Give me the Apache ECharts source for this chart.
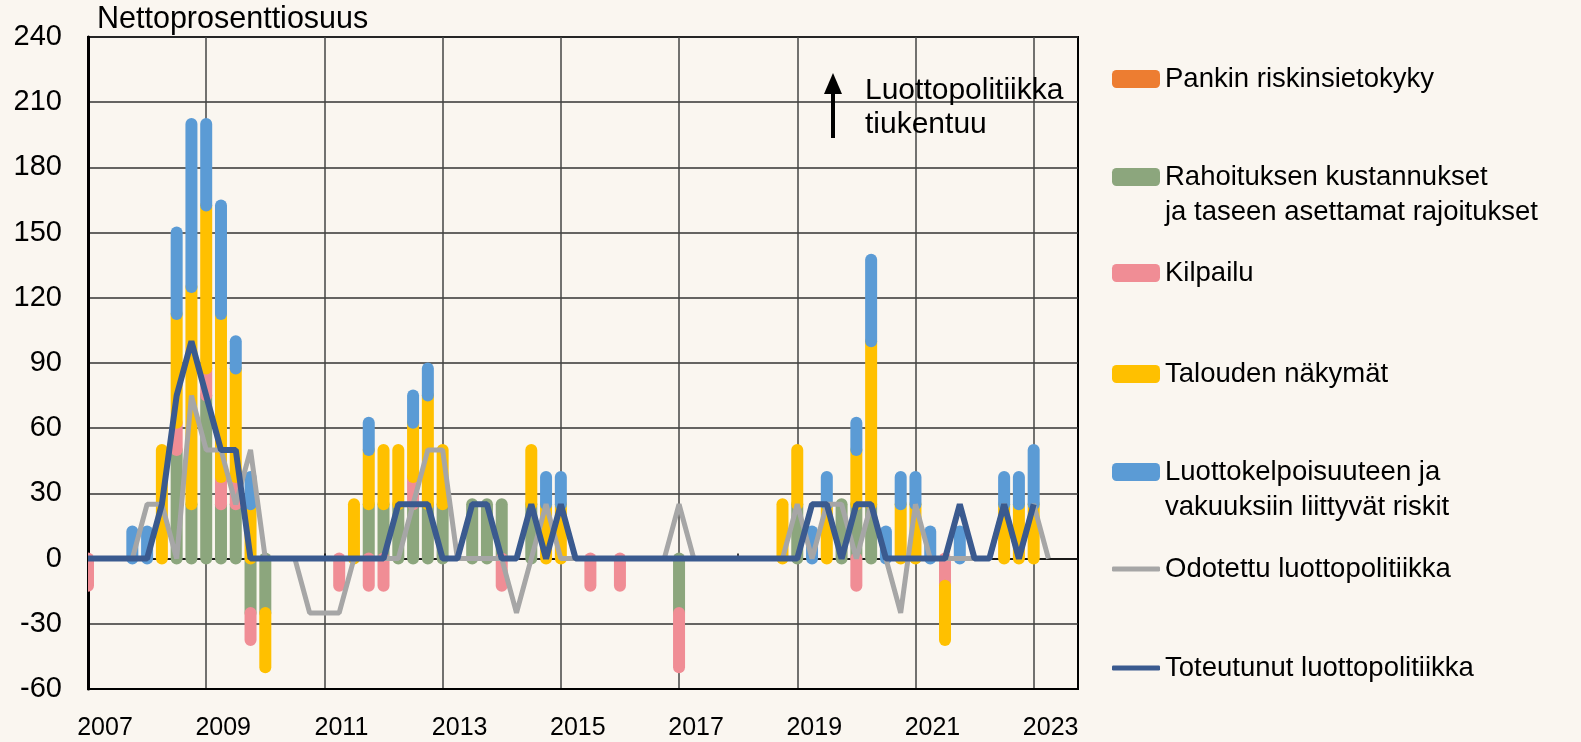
<!DOCTYPE html>
<html>
<head>
<meta charset="utf-8">
<script src="https://cdn.jsdelivr.net/npm/echarts@6/dist/echarts.min.js"></script>
<style>
  html, body { margin: 0; padding: 0; background: #FAF6F0; }
  #chart { width: 1581px; height: 742px; }
</style>
</head>
<body>
<div id="chart"></div>
<script>
// vuosineljännekset 2007Q1 - 2023Q4
const years = [2007, 2008, 2009, 2010, 2011, 2012, 2013, 2014, 2015, 2016, 2017, 2018, 2019, 2020, 2021, 2022, 2023]
const categories = []
years.forEach(y => { for (let q = 1; q <= 4; q++) categories.push(y + 'Q' + q) })

// tekijät, nettoprosenttiosuus (rivi = 2 vuotta)
const pankinRiski = [
  0, 0, 0, 0, 0, 0, 0, 0,
  0, 0, 0, 0, 0, 0, 0, 0,
  0, 0, 0, 0, 0, 0, 0, 0,
  0, 0, 0, 0, 0, 0, 0, 0,
  0, 0, 0, 0, 0, 0, 0, 0,
  0, 0, 0, 0, 0, 0, 0, 0,
  0, 0, 0, 0, 0, 0, 0, 0,
  0, 0, 0, 0, 0, 0, 0, 0,
  0
]
const rahoitus = [
  0, 0, 0, 0, 0, 0, 50, 25,
  75, 25, 25, -25, -25, 0, 0, 0,
  0, 0, 0, 25, 25, 25, 25, 25,
  25, 0, 25, 25, 25, 0, 25, 0,
  0, 0, 0, 0, 0, 0, 0, 0,
  -25, 0, 0, 0, 0, 0, 0, 0,
  25, 0, 0, 25, 25, 25, 0, 0,
  0, 0, 0, 0, 0, 0, 0, 0,
  0
]
const kilpailu = [
  -12.5, 0, 0, 0, 0, 0, 12.5, 0,
  12.5, 12.5, 12.5, -12.5, 0, 0, 0, 0,
  0, -12.5, 0, -12.5, -12.5, 0, 12.5, 0,
  0, 0, 0, 0, -12.5, 0, 0, 0,
  0, 0, -12.5, 0, -12.5, 0, 0, 0,
  -25, 0, 0, 0, 0, 0, 0, 0,
  0, 0, 0, 0, -12.5, 0, 0, 0,
  0, 0, -12.5, 0, 0, 0, 0, 0,
  0
]
const talous = [
  0, 0, 0, 0, 0, 50, 50, 100,
  75, 75, 50, 25, -25, 0, 0, 0,
  0, 0, 25, 25, 25, 25, 25, 50,
  25, 0, 0, 0, 0, 0, 25, 25,
  25, 0, 0, 0, 0, 0, 0, 0,
  0, 0, 0, 0, 0, 0, 0, 25,
  25, 0, 25, 0, 25, 75, 0, 25,
  25, 0, -25, 0, 0, 0, 25, 25,
  25
]
const luottokelpoisuus = [
  0, 0, 0, 12.5, 12.5, 0, 37.5, 75,
  37.5, 50, 12.5, 12.5, 0, 0, 0, 0,
  0, 0, 0, 12.5, 0, 0, 12.5, 12.5,
  0, 0, 0, 0, 0, 0, 0, 12.5,
  12.5, 0, 0, 0, 0, 0, 0, 0,
  0, 0, 0, 0, 0, 0, 0, 0,
  0, 12.5, 12.5, 0, 12.5, 37.5, 12.5, 12.5,
  12.5, 12.5, 0, 12.5, 0, 0, 12.5, 12.5,
  25
]
const odotettu = [
  0, 0, 0, 0, 25, 25, 0, 75,
  50, 50, 25, 50, 0, 0, 0, -25,
  -25, -25, 0, 0, 0, 0, 25, 50,
  50, 0, 0, 0, 0, -25, 0, 25,
  0, 0, 0, 0, 0, 0, 0, 0,
  25, 0, 0, 0, 0, 0, 0, 0,
  25, 0, 25, 25, 0, 25, 0, -25,
  25, 0, 0, 0, 0, 0, 25, 0,
  25, 0
]
const toteutunut = [
  0, 0, 0, 0, 0, 25, 75, 100,
  75, 50, 50, 0, 0, 0, 0, 0,
  0, 0, 0, 0, 0, 25, 25, 25,
  0, 0, 25, 25, 0, 0, 25, 0,
  25, 0, 0, 0, 0, 0, 0, 0,
  0, 0, 0, 0, 0, 0, 0, 0,
  0, 25, 25, 0, 25, 25, 0, 0,
  0, 0, 0, 25, 0, 0, 25, 0,
  25
]

const barDefs = [
  { name: 'Pankin riskinsietokyky', values: pankinRiski, color: '#ED7D31' },
  { name: 'Rahoituksen kustannukset\nja taseen asettamat rajoitukset', values: rahoitus, color: '#8CA67D' },
  { name: 'Kilpailu', values: kilpailu, color: '#F08D95' },
  { name: 'Talouden näkymät', values: talous, color: '#FFC000' },
  { name: 'Luottokelpoisuuteen ja\nvakuuksiin liittyvät riskit', values: luottokelpoisuus, color: '#5B9BD5' }
]
const lineDefs = [
  { name: 'Odotettu luottopolitiikka', values: odotettu, color: '#A6A6A6', width: 5 },
  { name: 'Toteutunut luottopolitiikka', values: toteutunut, color: '#3A5A8F', width: 6 }
]

const chart = echarts.init(document.getElementById('chart'))
const font = 'Liberation Sans, Arial, sans-serif'
const halfBar = 6

// pinotaan positiiviset ylös ja negatiiviset alas erikseen
const posBase = categories.map(() => 0)
const negBase = categories.map(() => 0)
const barSeries = barDefs.map(def => {
  const data = def.values.map((v, k) => {
    let base
    if (v >= 0) { base = posBase[k]; posBase[k] += v } else { base = negBase[k]; negBase[k] += v }
    return [k, v, base]
  })
  return {
    name: def.name,
    type: 'custom',
    clip: true,
    z: 2,
    itemStyle: { color: def.color },
    encode: { x: 0, y: 1 },
    data: data,
    renderItem(params, api) {
      const v = api.value(1)
      if (!v) return
      const k = api.value(0)
      const base = api.value(2)
      const a = api.coord([k, base])
      const b = api.coord([k, base + v])
      const y0 = Math.min(a[1], b[1]) - halfBar
      const y1 = Math.max(a[1], b[1]) + halfBar
      return {
        type: 'rect',
        shape: { x: a[0] - halfBar, y: y0, width: halfBar * 2, height: y1 - y0, r: halfBar },
        style: { fill: api.visual('color') }
      }
    }
  }
})
const lineSeries = lineDefs.map((def, i) => ({
  name: def.name,
  type: 'line',
  z: 3 + i,
  symbol: 'none',
  color: def.color,
  lineStyle: { color: def.color, width: def.width },
  data: def.values
}))

// selitteet: yksi legend-komponentti per rivi
const legendRows = [
  { name: barDefs[0].name, color: barDefs[0].color, y: 79, h: 18, lines: 1 },
  { name: barDefs[1].name, color: barDefs[1].color, y: 177, h: 18, lines: 2 },
  { name: barDefs[2].name, color: barDefs[2].color, y: 273, h: 18, lines: 1 },
  { name: barDefs[3].name, color: barDefs[3].color, y: 374, h: 18, lines: 1 },
  { name: barDefs[4].name, color: barDefs[4].color, y: 472, h: 18, lines: 2 },
  { name: lineDefs[0].name, color: lineDefs[0].color, y: 569, h: 5, lines: 1 },
  { name: lineDefs[1].name, color: lineDefs[1].color, y: 668, h: 5, lines: 1 }
]
const lh = 35
const legends = legendRows.map(row => ({
  left: 1112,
  top: row.lines === 2 ? row.y - 1.5 * lh : row.y - lh / 2,
  padding: 0,
  selectedMode: false,
  itemWidth: 48,
  itemHeight: row.h,
  // kaksirivisissä tyhjä rivi alkuun, jotta ensimmäinen rivi osuu kuvakkeen kohdalle
  formatter: name => (row.lines === 2 ? '\n' + name : name),
  textStyle: { fontSize: 27.5, color: '#000', fontFamily: font, lineHeight: lh },
  data: [{ name: row.name, icon: 'roundRect', itemStyle: { color: row.color } }]
}))

const option = {
  backgroundColor: '#FAF6F0',
  textStyle: { fontFamily: font },
  animation: false,
  title: {
    text: 'Nettoprosenttiosuus',
    left: 97,
    top: 4,
    padding: 0,
    textStyle: { fontSize: 30.5, fontWeight: 'normal', color: '#000', fontFamily: font }
  },
  legend: legends,
  grid: {
    left: 88, right: 503, top: 37, bottom: 53,
    show: true, borderColor: '#000', borderWidth: 2
  },
  xAxis: [
    {
      type: 'category',
      data: categories,
      boundaryGap: false,
      position: 'bottom',
      axisLine: { onZero: false, lineStyle: { color: '#000', width: 2 } },
      axisTick: { show: false },
      axisLabel: {
        interval: (i) => i % 8 === 0,
        formatter: (v) => v.slice(0, 4),
        fontSize: 25, color: '#000', margin: 27,
        padding: [0, 0, 0, 34]
      },
      splitLine: {
        show: true,
        interval: (i) => i % 8 === 0,
        lineStyle: { color: '#444', width: 1.5 }
      }
    },
    {
      type: 'category',
      data: categories,
      boundaryGap: false,
      position: 'bottom',
      axisLine: { onZero: true, lineStyle: { color: '#000', width: 1.5 } },
      axisTick: { show: true, inside: true, length: 5, interval: (i) => i % 4 === 0, lineStyle: { color: '#000', width: 1.5 } },
      axisLabel: { show: false },
      splitLine: { show: false }
    }
  ],
  yAxis: {
    type: 'value',
    min: -60, max: 240, interval: 30,
    axisLine: { show: true, lineStyle: { color: '#000', width: 3 } },
    axisTick: { show: false },
    axisLabel: { fontSize: 29, color: '#000', margin: 26 },
    splitLine: { lineStyle: { color: '#333', width: 1.5 } }
  },
  graphic: [
    {
      type: 'line', z: 10,
      shape: { x1: 833, y1: 138, x2: 833, y2: 90 },
      style: { stroke: '#000', lineWidth: 4 }
    },
    {
      type: 'polygon', z: 10,
      shape: { points: [[824, 94], [842, 94], [833, 73]] },
      style: { fill: '#000' }
    },
    {
      type: 'text', z: 10, left: 865, top: 74,
      style: { text: 'Luottopolitiikka\ntiukentuu', fontSize: 30, lineHeight: 34, fill: '#000', fontFamily: font }
    }
  ],
  series: barSeries.concat(lineSeries)
}
chart.setOption(option)
</script>
</body>
</html>
